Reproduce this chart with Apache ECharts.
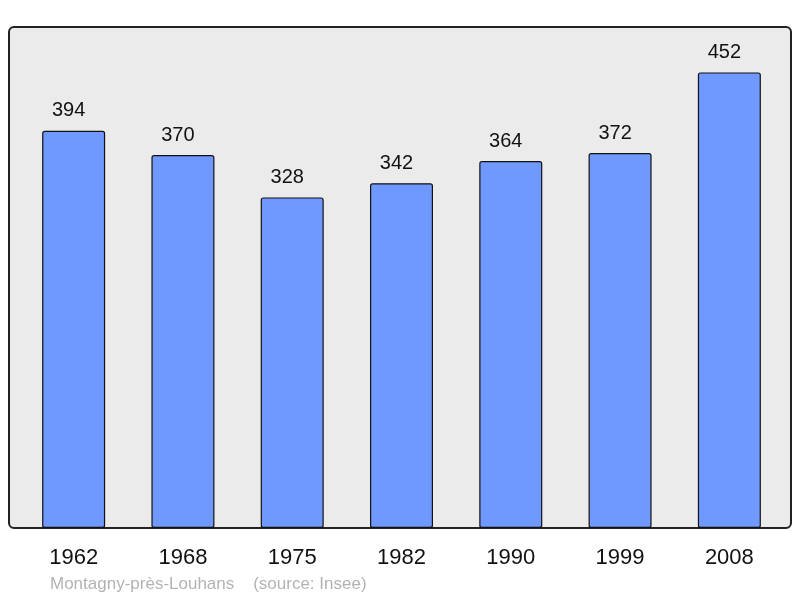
<!DOCTYPE html>
<html><head><meta charset="utf-8">
<script src="https://cdn.jsdelivr.net/npm/echarts@6/dist/echarts.min.js"></script>
<style>html,body{margin:0;padding:0;background:#fff}#c{width:800px;height:598px}</style>
</head><body><div id="c"></div>
<script>
var categories = ['1962','1968','1975','1982','1990','1999','2008'];
var population = [394, 370, 328, 342, 364, 372, 452];
var footer = 'Montagny-près-Louhans    (source: Insee)';

var chart = echarts.init(document.getElementById('c'));
chart.setOption({
  animation: false,
  backgroundColor: '#ffffff',
  graphic: [
    { type: 'rect', z: -10, shape: { x: 9, y: 27, width: 782, height: 501, r: 5 },
      style: { fill: '#ebebeb', stroke: '#222', lineWidth: 2 } },
    { type: 'text', x: 50, y: 584,
      style: { text: footer, fill: '#b3b3b3', verticalAlign: 'middle',
        font: '17px "Liberation Sans", Arial, sans-serif' } }
  ],
  grid: { left: 19, width: 765, top: 24, height: 504 },
  xAxis: {
    type: 'category', data: categories,
    axisLine: { show: false }, axisTick: { show: false },
    axisLabel: { color: '#111', fontSize: 22, margin: 19, fontFamily: '"Liberation Sans", Arial, sans-serif' }
  },
  yAxis: { type: 'value', min: 0, max: 500, show: false, splitLine: { show: false } },
  series: [{
    type: 'bar', data: population, barWidth: 63,
    itemStyle: { color: '#7099ff', borderColor: '#111', borderWidth: 1.2, borderRadius: 2 },
    label: { show: true, position: 'top', distance: 10, offset: [-5, 0], color: '#111', fontSize: 20,
      fontFamily: '"Liberation Sans", Arial, sans-serif' }
  }]
});
</script></body></html>
